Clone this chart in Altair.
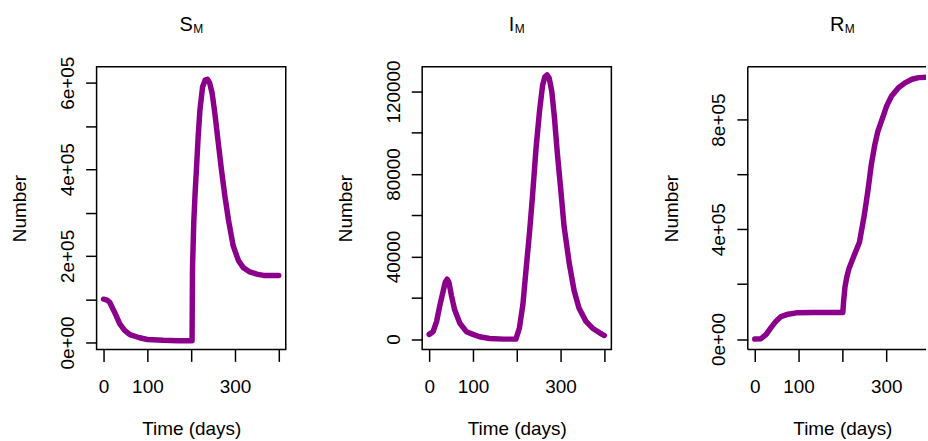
import altair as alt
import pandas as pd

# ---------------- data ----------------
S_time = [0, 8, 14, 25, 37, 48, 60, 82, 100, 136, 170, 202, 203, 206, 209, 212, 216, 220, 226,
          232, 237, 242, 248, 254, 262, 269, 277, 285, 296, 308, 319, 334, 350, 365, 380, 400]
S_value = [100000, 98000, 93000, 70000, 43000, 28000, 18000, 11000, 7000, 5000, 4000, 4000,
           170000, 280000, 345000, 400000, 476000, 537000, 590000, 606000, 608000, 600000,
           575000, 530000, 460000, 400000, 338000, 284000, 223000, 189000, 173000, 163000,
           158000, 155000, 155000, 155000]

I_time = [0, 9, 17, 24, 32, 37, 41, 45, 51, 58, 70, 85, 100, 115, 138, 170, 198, 206, 214, 221,
          229, 236, 244, 252, 259, 264, 269, 274, 280, 286, 293, 301, 308, 320, 331, 342, 358,
          373, 395, 400]
I_value = [2300, 3600, 8600, 16000, 23400, 27800, 29000, 27600, 20900, 14300, 7700, 3600, 2300,
           1150, 300, 0, 0, 5300, 16800, 33200, 51400, 69500, 92500, 110600, 123000, 127000,
           128000, 126500, 120000, 107300, 89200, 71100, 54600, 36500, 23400, 15100, 8600, 5300,
           2300, 1800]

R_time = [0, 14, 26, 37, 49, 60, 76, 95, 134, 201, 203, 206, 210, 215, 227, 239, 250, 258, 266,
          274, 281, 293, 301, 312, 328, 343, 359, 374, 398, 400]
R_value = [0, 1000, 17000, 41600, 66000, 82000, 90500, 95400, 96600, 96600, 140000, 190000,
           225000, 256000, 305000, 353000, 451000, 537000, 635000, 708000, 757000, 812000,
           849000, 885000, 916000, 934000, 947000, 953000, 955000, 955000]

panel_main = ["S", "I", "R"]
panel_sub = "M"

x_ticks = [0, 100, 200, 300, 400]
x_labels = ["0", "100", "", "300", ""]

S_yticks = [0, 100000, 200000, 300000, 400000, 500000, 600000]
S_ylabels = ["0e+00", "", "2e+05", "", "4e+05", "", "6e+05"]
I_yticks = [0, 20000, 40000, 60000, 80000, 100000, 120000]
I_ylabels = ["0", "", "40000", "", "80000", "", "120000"]
R_yticks = [0, 200000, 400000, 600000, 800000]
R_ylabels = ["0e+00", "", "4e+05", "", "8e+05"]

x_title = "Time (days)"
y_title = "Number"

# ---------------- styling ----------------
FONT = "Liberation Sans"
PURPLE = "#8B008B"
H = 284
FULL_W = 190
FS = 19


def label_expr(values, labels):
    expr = "''"
    for v, l in reversed(list(zip(values, labels))):
        expr = f"datum.value == {v} ? '{l}' : ({expr})"
    return expr


def panel(times, values, ydomain, yticks, ylabels, width, xmax, main, boundary, xticks, xlabels,
          open_right=False):
    df = pd.DataFrame({"t": times, "v": values})
    x_axis = alt.Axis(
        values=xticks, labelExpr=label_expr(xticks, xlabels), title=x_title,
        titleX=FULL_W / 2, titleY=85, titleAlign="center", titleBaseline="alphabetic",
        titleFont=FONT, titleFontSize=FS, titleFontWeight="normal", titleColor="black",
        labelFont=FONT, labelFontSize=FS, labelColor="black", labelAngle=0,
        labelBaseline="alphabetic", labelAlign="center", labelPadding=31,
        labelFlush=False, labelOverlap=False,
        tickSize=12, tickWidth=1.5, tickColor="black", domain=False, grid=False,
    )
    y_axis = alt.Axis(
        values=yticks, labelExpr=label_expr(yticks, ylabels), title=y_title,
        titleX=-71, titleY=H / 2, titleAngle=270, titleAlign="center", titleBaseline="alphabetic",
        titleFont=FONT, titleFontSize=FS, titleFontWeight="normal", titleColor="black",
        labelFont=FONT, labelFontSize=FS, labelColor="black", labelAngle=270,
        labelAlign="center", labelBaseline="alphabetic", labelPadding=12,
        labelFlush=False, labelOverlap=False,
        tickSize=11, tickWidth=1.5, tickColor="black", domain=False, grid=False,
    )
    line = alt.Chart(df).mark_line(
        color=PURPLE, strokeWidth=5.5, clip=True, strokeJoin="round", strokeCap="round"
    ).encode(
        x=alt.X("t:Q", scale=alt.Scale(domain=[-16, xmax], nice=False, zero=False), axis=x_axis),
        y=alt.Y("v:Q", scale=alt.Scale(domain=ydomain, nice=False, zero=False), axis=y_axis),
    )
    one = alt.Data(values=[{"main": main, "sub": panel_sub}])
    t_main = alt.Chart(one).mark_text(
        font=FONT, fontSize=20, align="right", baseline="alphabetic", color="black"
    ).encode(x=alt.value(boundary), y=alt.value(-36), text=alt.Text("main:N"))
    t_sub = alt.Chart(one).mark_text(
        font=FONT, fontSize=12, align="left", baseline="alphabetic", color="black"
    ).encode(x=alt.value(boundary + 0.5), y=alt.value(-34), text=alt.Text("sub:N"))
    layers = [line, t_main, t_sub]
    if open_right:
        rl = alt.Chart(one).mark_rule(color="black", strokeWidth=1.5)
        layers += [
            rl.encode(x=alt.value(0), x2=alt.value(width), y=alt.value(0)),
            rl.encode(x=alt.value(0), x2=alt.value(width), y=alt.value(H)),
            rl.encode(x=alt.value(0), y=alt.value(0), y2=alt.value(H)),
        ]
        return alt.layer(*layers).properties(
            width=width, height=H, view=alt.ViewBackground(stroke="transparent")
        )
    return alt.layer(*layers).properties(width=width, height=H)


p1 = panel(S_time, S_value, [-16000, 637000], S_yticks, S_ylabels, FULL_W, 416, panel_main[0],
           96.5, x_ticks, x_labels)
p2 = panel(I_time, I_value, [-5000, 132000], I_yticks, I_ylabels, FULL_W, 416, panel_main[1],
           92.5, x_ticks, x_labels)
W3 = 179
p3 = panel(R_time, R_value, [-38000, 993000], R_yticks, R_ylabels, W3, -16 + W3 * 432 / FULL_W,
           panel_main[2], 97.0, x_ticks[:4], x_labels[:4], open_right=True)

chart = alt.hconcat(p1, p2, p3, spacing=137, bounds="flush").properties(
    padding={"left": 10, "top": 13, "right": 0, "bottom": 0},
    background="white",
).configure_view(stroke="black", strokeWidth=1.5)

chart.save("out.html", embed_options={"renderer": "svg", "actions": False})
